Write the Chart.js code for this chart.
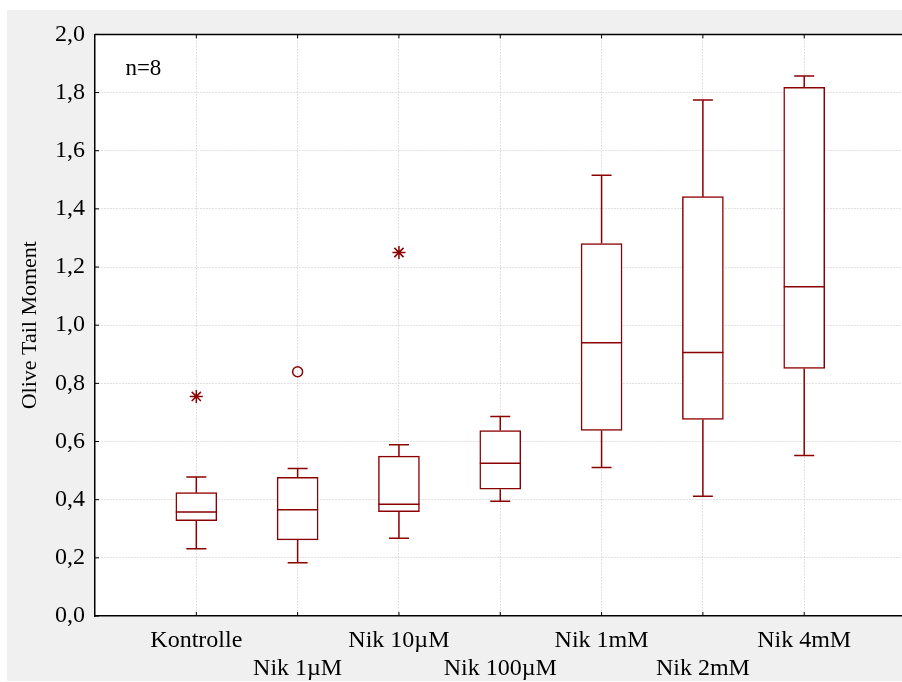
<!DOCTYPE html>
<html>
<head>
<meta charset="utf-8">
<script src="https://cdn.jsdelivr.net/npm/chart.js@4"></script>
<style>
    body { margin: 0; background: #fff; overflow: hidden; }
    #wrap { position: absolute; left: 7px; top: 10px; width: 895px; height: 671px; background: #f0f0f0; overflow: hidden; }
</style>
</head>
<body>
<div id="wrap"><canvas id="canvas1" width="905" height="671"></canvas></div>
<script>
const labels = ["Kontrolle", "Nik 1µM", "Nik 10µM", "Nik 100µM", "Nik 1mM", "Nik 2mM", "Nik 4mM"];
const minVal = [0.231, 0.183, 0.267, 0.395, 0.511, 0.412, 0.552];
const q1Val = [0.328, 0.262, 0.359, 0.436, 0.638, 0.676, 0.851];
const medVal = [0.358, 0.365, 0.384, 0.525, 0.940, 0.906, 1.132];
const q3Val = [0.424, 0.477, 0.550, 0.638, 1.281, 1.442, 1.818];
const maxVal = [0.478, 0.507, 0.589, 0.686, 1.516, 1.774, 1.857];
const outX = [1, 2, 3];
const outY = [0.755, 0.84, 1.25];
const outStyle = ['star', 'circle', 'star'];
const yTicks = [0, 0.2, 0.4, 0.6, 0.8, 1.0, 1.2, 1.4, 1.6, 1.8, 2.0];

const red = '#8B0000';
const font = "'Liberation Serif', 'Times New Roman', serif";

// white plot area
const bgPlugin = {
    id: 'plotBg',
    beforeDraw(chart) {
        const a = chart.chartArea;
        chart.ctx.save();
        chart.ctx.fillStyle = '#fff';
        chart.ctx.fillRect(a.left, a.top, a.right - a.left, a.bottom - a.top);
        chart.ctx.restore();
    }
};

// whiskers, medians, frame ticks and the n=8 note
const boxPlugin = {
    id: 'boxExtras',
    afterDatasetsDraw(chart) {
        const ctx = chart.ctx;
        const xs = chart.scales.x, ys = chart.scales.y;
        const area = chart.chartArea;
        ctx.save();
        ctx.strokeStyle = red;
        ctx.lineWidth = 1.5;
        for (let i = 0; i < labels.length; i++) {
            const x = xs.getPixelForValue(i + 1);
            ctx.beginPath();
            ctx.moveTo(x, ys.getPixelForValue(q3Val[i]));
            ctx.lineTo(x, ys.getPixelForValue(maxVal[i]));
            ctx.moveTo(x - 10, ys.getPixelForValue(maxVal[i]));
            ctx.lineTo(x + 10, ys.getPixelForValue(maxVal[i]));
            ctx.moveTo(x, ys.getPixelForValue(q1Val[i]));
            ctx.lineTo(x, ys.getPixelForValue(minVal[i]));
            ctx.moveTo(x - 10, ys.getPixelForValue(minVal[i]));
            ctx.lineTo(x + 10, ys.getPixelForValue(minVal[i]));
            ctx.moveTo(x - 20.5, ys.getPixelForValue(medVal[i]));
            ctx.lineTo(x + 20.5, ys.getPixelForValue(medVal[i]));
            ctx.stroke();
        }
        // frame
        ctx.strokeStyle = '#000';
        ctx.lineWidth = 1.5;
        ctx.beginPath();
        ctx.moveTo(area.left, area.top);
        ctx.lineTo(area.right, area.top);
        ctx.stroke();
        ctx.lineWidth = 1;
        ctx.beginPath();
        for (let i = 1; i <= labels.length; i++) {
            const x = xs.getPixelForValue(i);
            ctx.moveTo(x, area.top); ctx.lineTo(x, area.top + 4);
            ctx.moveTo(x, area.bottom); ctx.lineTo(x, area.bottom - 4);
        }
        yTicks.forEach(v => {
            const y = ys.getPixelForValue(v);
            ctx.moveTo(area.left, y); ctx.lineTo(area.left + 4, y);
        });
        ctx.stroke();
        ctx.fillStyle = '#000';
        ctx.font = '23px ' + font;
        ctx.textBaseline = 'middle';
        ctx.fillText('n=8', xs.getPixelForValue(0.3), ys.getPixelForValue(1.88));
        ctx.restore();
    }
};

const data = {
    datasets: [
        {
            type: 'scatter',
            data: outX.map((x, i) => ({ x: x, y: outY[i] })),
            pointStyle: outStyle,
            radius: outStyle.map(s => s === 'star' ? 6.5 : 5),
            borderColor: red,
            backgroundColor: 'rgba(0,0,0,0)',
            borderWidth: 1.5,
            order: 0
        },
        {
            type: 'bar',
            data: labels.map((l, i) => ({ x: i + 1, y: [q1Val[i], q3Val[i]] })),
            backgroundColor: '#fff',
            borderColor: red,
            borderWidth: 1.5,
            borderSkipped: false,
            barThickness: 41,
            grouped: false,
            order: 1
        }
    ]
};

const config = {
    type: 'bar',
    data: data,
    options: {
        responsive: false,
        animation: false,
        layout: { padding: { top: 23, right: 0, left: 0, bottom: 0 } },
        plugins: { legend: { display: false }, tooltip: { enabled: false } },
        scales: {
            x: {
                type: 'linear',
                min: 0,
                max: 7.985,
                offset: false,
                afterFit: s => { s.height = 65; },
                ticks: {
                    stepSize: 1,
                    includeBounds: false,
                    autoSkip: false,
                    maxRotation: 0,
                    padding: 10,
                    color: '#000',
                    font: { family: font, size: 24, lineHeight: 1.2 },
                    callback: v => {
                        const i = Math.round(v) - 1;
                        if (i < 0 || i >= labels.length) return '';
                        return i % 2 === 0 ? labels[i] : ['', labels[i]];
                    }
                },
                grid: {
                    offset: false,
                    drawTicks: false,
                    color: c => (c.tick && c.tick.value === 0) ? 'rgba(0,0,0,0)' : '#c4c4c4',
                    lineWidth: 1
                },
                border: { color: '#000', width: 1.5, dash: [1, 2] }
            },
            y: {
                min: 0,
                max: 2,
                afterFit: s => { s.width = 88; },
                ticks: {
                    stepSize: 0.2,
                    padding: 10,
                    color: '#000',
                    font: { family: font, size: 24 },
                    callback: v => v.toFixed(1).replace('.', ',')
                },
                title: {
                    display: true,
                    text: 'Olive Tail Moment',
                    color: '#000',
                    padding: { top: 10, bottom: 0 },
                    font: { family: font, size: 22 }
                },
                grid: {
                    drawTicks: false,
                    color: c => (c.tick && (c.tick.value === 0 || c.tick.value === 2)) ? 'rgba(0,0,0,0)' : '#c4c4c4',
                    lineWidth: 1
                },
                border: { color: '#000', width: 1.5, dash: [1, 2] }
            }
        }
    },
    plugins: [bgPlugin, boxPlugin]
};

const chart = new Chart(document.getElementById('canvas1'), config);
</script>
</body>
</html>
